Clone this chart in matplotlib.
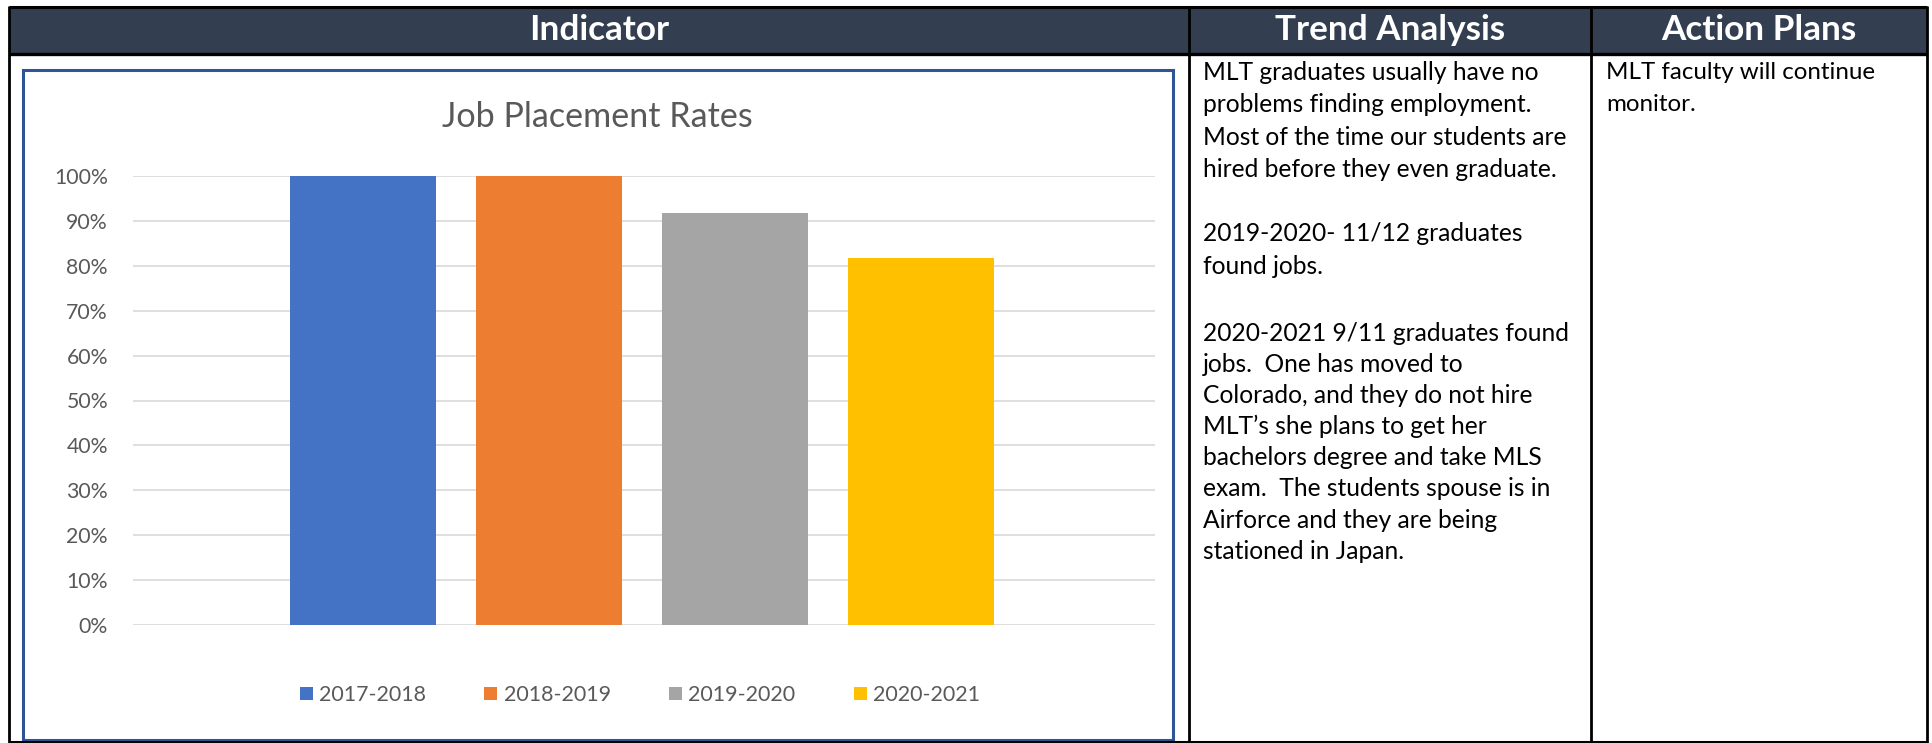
import matplotlib.pyplot as plt
from matplotlib.patches import Rectangle
from matplotlib.lines import Line2D
from matplotlib.ticker import PercentFormatter

plt.rcParams['font.family'] = ['Lato', 'DejaVu Sans']

# chart data
years = ["2017-2018", "2018-2019", "2019-2020", "2020-2021"]
rates = [1.00, 1.00, 0.917, 0.818]
colors = ["#4472C4", "#ED7D31", "#A5A5A5", "#FFC000"]

headers = ["Indicator", "Trend Analysis", "Action Plans"]
trend_par1 = ["MLT graduates usually have no",
              "problems finding employment.",
              "Most of the time our students are",
              "hired before they even graduate."]
trend_par2 = ["2019-2020- 11/12 graduates",
              "found jobs."]
trend_par3 = ["2020-2021 9/11 graduates found",
              "jobs.  One has moved to",
              "Colorado, and they do not hire",
              "MLT\u2019s she plans to get her",
              "bachelors degree and take MLS",
              "exam.  The students spouse is in",
              "Airforce and they are being",
              "stationed in Japan."]
action_lines = ["MLT faculty will continue",
                "monitor."]

W, H = 1933, 743
fig = plt.figure(figsize=(W / 100, H / 100), dpi=100)


def fx(x):
    return x / W


def fy(y):
    return 1 - y / H


def line(xs, ys, lw=2.0, color="black"):
    fig.add_artist(Line2D([fx(v) for v in xs], [fy(v) for v in ys],
                          transform=fig.transFigure, color=color, lw=lw,
                          solid_capstyle="butt"))


# table header band
fig.add_artist(Rectangle((fx(9), fy(53)), fx(1927) - fx(9), fy(7) - fy(53),
                         transform=fig.transFigure, facecolor="#333F50",
                         edgecolor="none"))
col_x = [9, 1189, 1591, 1927]
for i, h in enumerate(headers):
    fig.text(fx((col_x[i] + col_x[i + 1]) / 2), fy(30), h, color="white",
             fontsize=25.3, fontweight="bold", ha="center", va="center")

# table grid
line([9, 1927], [7, 7], lw=2.2)
line([9, 1927], [53.5, 53.5], lw=2.4)
line([9, 1927], [742, 742], lw=2.2)
for x in col_x:
    line([x, x], [6, 743], lw=2.0)

# chart frame
fig.add_artist(Rectangle((fx(22.5), fy(739.5)), fx(1173) - fx(22.5), fy(69.5) - fy(739.5),
                         transform=fig.transFigure, facecolor="none",
                         edgecolor="#2F5597", lw=2.2))

fig.text(fx(597), fy(117), "Job Placement Rates", color="#595959",
         fontsize=24.6, ha="center", va="center")

ax = fig.add_axes([fx(133), fy(625), fx(1155) - fx(133), fy(176) - fy(625)])
for i in range(len(years)):
    ax.bar(i, rates[i], width=0.785, color=colors[i], label=years[i], zorder=3)
ax.set_xlim(-1.237, 4.258)
ax.set_ylim(0, 1)
ax.set_yticks([i / 10 for i in range(11)])
ax.yaxis.set_major_formatter(PercentFormatter(1.0, decimals=0))
ax.set_xticks([])
ax.tick_params(axis="y", length=0, pad=18, labelsize=15.3, labelcolor="#595959")
ax.grid(axis="y", color="#D9D9D9", lw=1.2, zorder=0)
for s in ax.spines.values():
    s.set_visible(False)

leg = ax.legend(loc="center", bbox_to_anchor=(fx(640), fy(695)),
                bbox_transform=fig.transFigure, ncol=4, frameon=False,
                fontsize=15.4, handlelength=0.6, handleheight=0.6,
                handletextpad=0.3, columnspacing=2.73, borderpad=0)
for t in leg.get_texts():
    t.set_color("#595959")

# trend analysis text
def para(lines, x, y0, step, size=17.7):
    for k, s in enumerate(lines):
        fig.text(fx(x), fy(y0 + k * step), s, fontsize=size, color="black",
                 ha="left", va="center")


para(trend_par1, 1203, 72.5, 32.4)
para(trend_par2, 1203, 234, 32.4)
para(trend_par3, 1203, 333, 31.2)
para(action_lines, 1606, 72.5, 32.4, size=17.4)

fig.savefig("out.png", dpi=100)
